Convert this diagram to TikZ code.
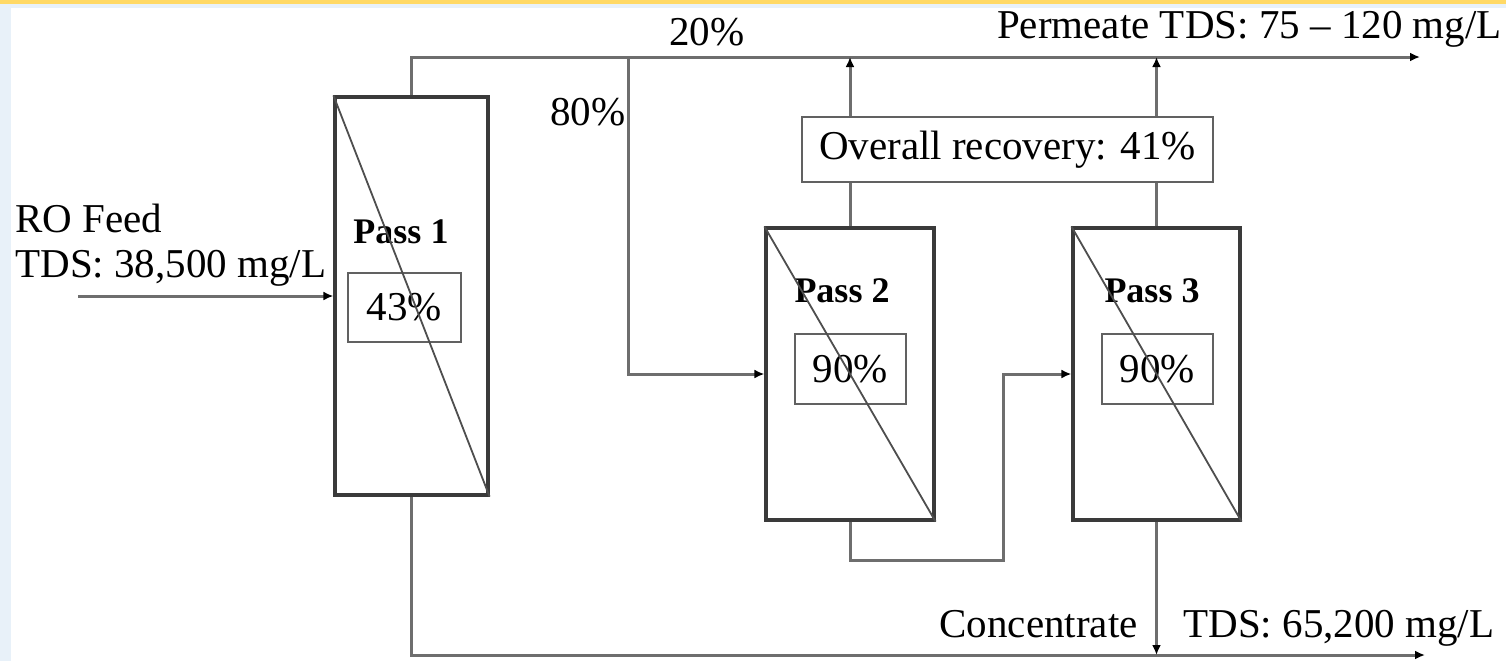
\documentclass[tikz,border=0pt]{standalone}
\usepackage{fontspec}
\setmainfont{Liberation Serif}
\usetikzlibrary{arrows.meta}
\definecolor{topbar}{HTML}{FFD966}
\definecolor{bluebg}{HTML}{E8F1F9}
\definecolor{boxline}{HTML}{3A3A3A}
\definecolor{wireline}{HTML}{6E6E6E}
\tikzset{
  txt/.style={inner sep=0pt, font=\fontsize{20.5}{24}\selectfont},
  passbox/.style={draw=boxline, line width=1.6pt, inner sep=0pt},
  pctbox/.style={draw=boxline!80, line width=1.4pt, inner sep=0pt, font=\fontsize{20.5}{24}\selectfont},
  passlbl/.style={inner sep=0pt, font=\fontsize{18}{22}\selectfont\bfseries},
  wire/.style={draw=wireline, line width=1.5pt},
  flow/.style={wire, -{Latex[length=5pt,width=4.5pt,color=black]}},
  diag/.style={draw=boxline!90, line width=0.9pt}
}
\begin{document}
\begin{tikzpicture}[x=0.5pt,y=-0.5pt]
\useasboundingbox (0,0) rectangle (1506,661);
\fill[bluebg] (0,0) rectangle (1506,661);
\fill[white] (11,8) rectangle (1506,661);
\fill[topbar] (0,0) rectangle (1506,4);

% pass boxes
\node[passbox, minimum width=76.5pt, minimum height=199pt] (p1) at (411.5,296) {};
\node[passbox, minimum width=84pt, minimum height=146pt] (p2) at (850,374) {};
\node[passbox, minimum width=83.5pt, minimum height=146pt] (p3) at (1156.5,374) {};

% percentage boxes
\node[pctbox, minimum width=56.5pt, minimum height=34.5pt] (r1) at (404.5,307.5) {43\%};
\node[pctbox, minimum width=55.5pt, minimum height=35pt] (r2) at (850.5,369) {90\%};
\node[pctbox, minimum width=55.5pt, minimum height=35pt] (r3) at (1157.5,369) {90\%};

% overall recovery
\node[pctbox, minimum width=205.5pt, minimum height=32.5pt] (ov) at (1007.5,149.5) {Overall recovery: 41\%};

% pass labels
\node[passlbl, anchor=base] (l1) at (401,243) {Pass 1};
\node[passlbl, anchor=base] (l2) at (842,302) {Pass 2};
\node[passlbl, anchor=base] (l3) at (1152,302) {Pass 3};

% diagonals
\draw[diag] (p1.north west) -- (p1.south east);
\draw[diag] (p2.north west) -- (p2.south east);
\draw[diag] (p3.north west) -- (p3.south east);

% coordinates
\coordinate (feed) at (78,296);
\coordinate (perm) at (1420,57);
\coordinate (split) at (628,57);
\coordinate (u) at (1003,560);
\coordinate (conc) at (1425,655);

% connectors
\draw[flow] (feed) -- (p1.west);
\draw[flow] (p1.north) |- (perm);
\draw[flow] (split) |- (p2.west);
\draw[wire] (p2.north) -- (ov.south -| p2.north);
\draw[flow] (ov.north -| p2.north) -- (p2.north |- perm);
\draw[wire] (p3.north) -- (ov.south -| p3.north);
\draw[flow] (ov.north -| p3.north) -- (p3.north |- perm);
\draw[flow] (p2.south) |- (u) |- (p3.west);
\draw[flow] (p1.south) |- (conc);
\draw[flow] (p3.south) -- (p3.south |- conc);

% texts
\node[txt, anchor=base] (t20) at (707,45) {20\%};
\node[txt, anchor=base east] (t80) at (626,125) {80\%};
\node[txt, anchor=base east] (tperm) at (1502,38) {Permeate TDS: 75 – 120 mg/L};
\node[txt, anchor=base west] (tfeed1) at (15,232) {RO Feed};
\node[txt, anchor=base west] (tfeed2) at (15,277) {TDS: 38,500 mg/L};
\node[txt, anchor=base east] (tconc) at (1138,637) {Concentrate};
\node[txt, anchor=base west] (ttds) at (1183,637) {TDS: 65,200 mg/L};
\end{tikzpicture}
\end{document}
